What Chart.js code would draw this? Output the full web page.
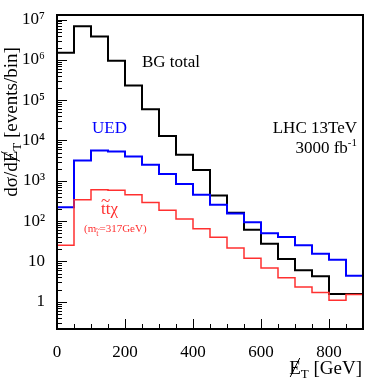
<!DOCTYPE html>
<html>
<head>
<meta charset="utf-8">
<script src="https://cdn.jsdelivr.net/npm/chart.js@4.4.1/dist/chart.umd.min.js"></script>
<style>
  html, body { margin: 0; padding: 0; background: #fff; }
  #wrap { width: 382px; height: 383px; }
</style>
</head>
<body>
<div id="wrap"><canvas id="grafico" width="382" height="383"></canvas></div>
<script>
// bordes de los bins (GeV)
const binEdges = [0, 50, 100, 150, 200, 250, 300, 350, 400, 450, 500, 550, 600, 650, 700, 750, 800, 850, 900];

// eventos por bin
const bgTotal = [1.5e6, 6.8e6, 3.8e6, 9.5e5, 2.3e5, 6.0e4, 1.3e4, 4.4e3, 1.85e3, 430, 160, 61, 27.5, 11.5, 6.0, 4.25, 1.55, 1.55];
const ued = [220, 3200, 5650, 5300, 4000, 2500, 1470, 830, 450, 255, 155, 93, 50, 40, 25, 15.5, 11, 4.4];
const stopChi = [25, 340, 600, 580, 450, 290, 185, 113, 65, 39.5, 21.5, 12, 6.9, 3.9, 2.3, 1.7, 1.08, 1.5];

const yTicks = [1, 10, 100, 1e3, 1e4, 1e5, 1e6, 1e7];
const yTickLabels = ['1', '10', '10²', '10³', '10⁴', '10⁵', '10⁶', '10⁷'];
const xTicks = [0, 200, 400, 600, 800];
const xTickLabels = ['0', '200', '400', '600', '800'];

const Y_MIN = 0.21, Y_MAX = 1.3e7;
const FUENTE = "'Liberation Serif', 'DejaVu Serif', serif";

function puntosHistograma(valores) {
  const pts = [{ x: binEdges[0], y: Y_MIN }];
  valores.forEach((v, i) => pts.push({ x: binEdges[i], y: v }));
  pts.push({ x: binEdges[binEdges.length - 1], y: valores[valores.length - 1] });
  return pts;
}

// marco y marcas interiores (estilo ROOT)
const marcoPlugin = {
  id: 'marco',
  afterDatasetsDraw(chart) {
    const { ctx, chartArea: a, scales } = chart;
    ctx.save();
    ctx.strokeStyle = '#000';
    ctx.lineWidth = 1;
    ctx.beginPath();
    const ys = scales.y;
    for (let n = -1; n <= 7; n++) {
      for (let k = 1; k <= 9; k++) {
        const v = k * Math.pow(10, n);
        if (v < Y_MIN || v > Y_MAX) continue;
        const py = Math.round(ys.getPixelForValue(v)) + 0.5;
        const len = k === 1 ? 10 : 5;
        ctx.moveTo(a.left, py);
        ctx.lineTo(a.left + len, py);
      }
    }
    const xs = scales.x;
    for (let v = 0; v <= 900; v += 50) {
      const px = Math.round(xs.getPixelForValue(v)) + 0.5;
      const len = v % 200 === 0 ? 10 : 5;
      ctx.moveTo(px, a.bottom);
      ctx.lineTo(px, a.bottom - len);
    }
    ctx.stroke();
    ctx.lineWidth = 2;
    ctx.strokeRect(a.left, a.top, a.right - a.left, a.bottom - a.top);
    ctx.restore();
  }
};

// textos del grafico
const textosPlugin = {
  id: 'textos',
  afterDraw(chart) {
    const { ctx } = chart;
    ctx.save();
    ctx.textBaseline = 'alphabetic';

    ctx.font = `17px ${FUENTE}`;
    ctx.fillStyle = '#000';
    ctx.textAlign = 'left';
    ctx.fillText('BG total', 142, 67);

    ctx.fillStyle = '#0000ff';
    ctx.fillText('UED', 92, 133);

    ctx.fillStyle = '#000';
    ctx.textAlign = 'right';
    ctx.fillText('LHC 13TeV', 357, 133);
    ctx.font = `11px ${FUENTE}`;
    ctx.fillText('-1', 357, 146);
    const wSup = ctx.measureText('-1').width;
    ctx.font = `17px ${FUENTE}`;
    ctx.fillText('3000 fb', 357 - wSup, 153);

    // stop + top + chi
    ctx.fillStyle = '#ff3030';
    ctx.textAlign = 'left';
    ctx.font = `17px ${FUENTE}`;
    ctx.fillText('ttχ', 101, 214);
    ctx.fillText('~', 101, 206);
    ctx.font = `11px ${FUENTE}`;
    ctx.fillText('(m', 84, 232);
    let x = 84 + ctx.measureText('(m').width;
    ctx.font = `8px ${FUENTE}`;
    ctx.fillText('t', x, 236);
    ctx.fillText('~', x - 0.5, 232);
    x += ctx.measureText('t').width + 1;
    ctx.font = `11px ${FUENTE}`;
    ctx.fillText('=317GeV)', x, 232);

    // titulo eje x
    ctx.fillStyle = '#000';
    ctx.font = `19px ${FUENTE}`;
    const resto = ' [GeV]';
    const wResto = ctx.measureText(resto).width;
    ctx.textAlign = 'right';
    ctx.fillText(resto, 362, 374);
    ctx.font = `13px ${FUENTE}`;
    const wT = ctx.measureText('T').width;
    ctx.fillText('T', 362 - wResto, 378);
    ctx.font = `19px ${FUENTE}`;
    const xE = 362 - wResto - wT;
    ctx.fillText('E', xE, 374);
    const wE = ctx.measureText('E').width;
    ctx.lineWidth = 1;
    ctx.strokeStyle = '#000';
    ctx.beginPath();
    ctx.moveTo(xE - wE + 1, 377);
    ctx.lineTo(xE - 1, 358);
    ctx.stroke();

    // titulo eje y
    ctx.translate(17, 122);
    ctx.rotate(-Math.PI / 2);
    ctx.font = `19px ${FUENTE}`;
    const p1 = 'dσ/dE', p3 = ' [events/bin]';
    const w1 = ctx.measureText(p1).width;
    const w3 = ctx.measureText(p3).width;
    ctx.font = `13px ${FUENTE}`;
    const w2 = ctx.measureText('T').width;
    const total = w1 + w2 + w3;
    let cx = -total / 2;
    ctx.textAlign = 'left';
    ctx.font = `19px ${FUENTE}`;
    ctx.fillText(p1, cx, 0);
    const wE2 = ctx.measureText('E').width;
    ctx.beginPath();
    ctx.moveTo(cx + w1 - wE2 + 1, 3);
    ctx.lineTo(cx + w1 - 1, -16);
    ctx.stroke();
    cx += w1;
    ctx.font = `13px ${FUENTE}`;
    ctx.fillText('T', cx, 4);
    cx += w2;
    ctx.font = `19px ${FUENTE}`;
    ctx.fillText(p3, cx, 0);
    ctx.restore();
  }
};

const ctx = document.getElementById('grafico').getContext('2d');
new Chart(ctx, {
  type: 'line',
  data: {
    datasets: [
      { label: 'BG total', data: puntosHistograma(bgTotal), borderColor: '#000000', borderWidth: 2, order: 3 },
      { label: 'UED', data: puntosHistograma(ued), borderColor: '#0000ff', borderWidth: 2, order: 2 },
      { label: 'stop', data: puntosHistograma(stopChi), borderColor: '#ff3030', borderWidth: 1.5, order: 1 }
    ].map(d => Object.assign(d, { stepped: 'before', pointRadius: 0, fill: false, tension: 0 }))
  },
  options: {
    responsive: false,
    animation: false,
    events: [],
    layout: { padding: { top: 15, right: 19, left: 0, bottom: 0 } },
    plugins: { legend: { display: false }, tooltip: { enabled: false } },
    scales: {
      x: {
        type: 'linear',
        min: 0,
        max: 900,
        grid: { display: false },
        border: { display: false },
        afterFit: s => { s.height = 54; },
        afterBuildTicks: s => { s.ticks = xTicks.map(v => ({ value: v })); },
        ticks: {
          autoSkip: false,
          maxRotation: 0,
          padding: 5,
          color: '#000',
          font: { family: FUENTE, size: 17 },
          callback: v => xTickLabels[xTicks.indexOf(v)]
        }
      },
      y: {
        type: 'logarithmic',
        min: Y_MIN,
        max: Y_MAX,
        grid: { display: false },
        border: { display: false },
        afterFit: s => { s.width = 57; },
        afterBuildTicks: s => { s.ticks = yTicks.map(v => ({ value: v })); },
        ticks: {
          autoSkip: false,
          padding: 4,
          color: '#000',
          font: { family: FUENTE, size: 17 },
          callback: v => yTickLabels[yTicks.indexOf(v)]
        }
      }
    }
  },
  plugins: [marcoPlugin, textosPlugin]
});
</script>
</body>
</html>
